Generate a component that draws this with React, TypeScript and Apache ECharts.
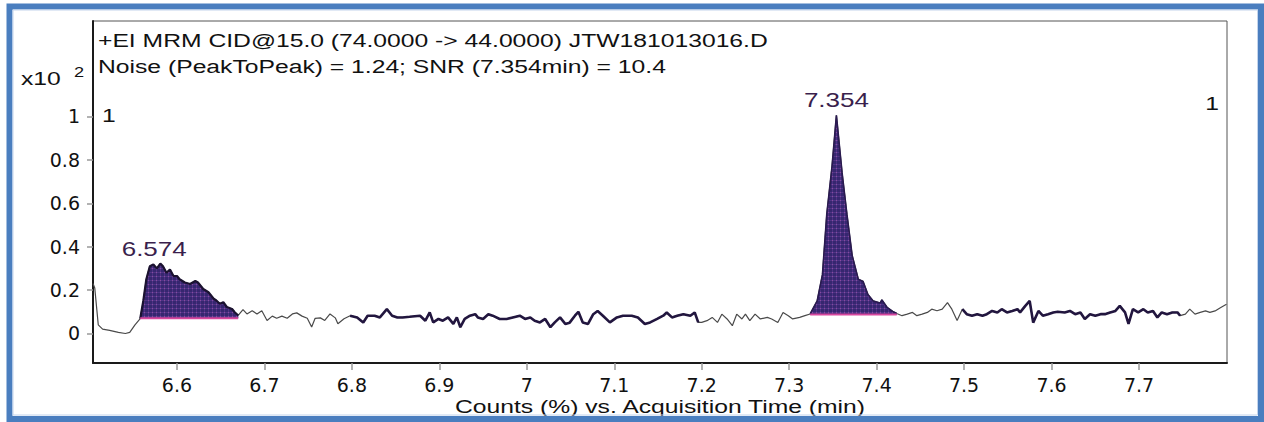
import { useEffect, useRef } from 'react';
import * as echarts from 'echarts';

// ---- Data (time in min, counts in x10^2) ----
const leadIn: number[][] = [
  [6.504, 0.23], [6.506, 0.21], [6.51, 0.04], [6.515, 0.02], [6.523, 0.014], [6.533, 0.005],
  [6.541, 0.0], [6.546, 0.005], [6.552, 0.04],
];

const peak1Trace: number[][] = [
  [6.558, 0.068], [6.5615, 0.15], [6.565, 0.25], [6.569, 0.31], [6.573, 0.318], [6.577, 0.3],
  [6.581, 0.322], [6.584, 0.31], [6.588, 0.28], [6.592, 0.295], [6.596, 0.265], [6.6, 0.265],
  [6.603, 0.25], [6.609, 0.235], [6.615, 0.228], [6.621, 0.242], [6.624, 0.235], [6.63, 0.205],
  [6.636, 0.19], [6.642, 0.16], [6.645, 0.152], [6.649, 0.137], [6.653, 0.144], [6.657, 0.122],
  [6.663, 0.113], [6.666, 0.098], [6.67, 0.083],
];

const noiseA: number[][] = [
  [6.6755, 0.11], [6.68, 0.09], [6.686, 0.105], [6.6915, 0.09], [6.697, 0.105], [6.703, 0.06],
  [6.709, 0.08], [6.714, 0.07], [6.72, 0.08], [6.726, 0.07], [6.732, 0.09], [6.737, 0.095],
  [6.743, 0.08], [6.749, 0.07], [6.754, 0.03], [6.758, 0.07], [6.764, 0.072], [6.769, 0.06],
  [6.775, 0.09], [6.781, 0.072], [6.784, 0.045], [6.791, 0.068], [6.798, 0.082],
];

const noiseB: number[][] = [
  [6.806, 0.074], [6.813, 0.051], [6.818, 0.082], [6.826, 0.082], [6.832, 0.074], [6.84, 0.112],
  [6.846, 0.082], [6.852, 0.074], [6.858, 0.074], [6.866, 0.077], [6.878, 0.082], [6.884, 0.059],
  [6.889, 0.097], [6.893, 0.051], [6.899, 0.067], [6.904, 0.059], [6.91, 0.074], [6.916, 0.044],
  [6.92, 0.074], [6.924, 0.029], [6.929, 0.067], [6.935, 0.082], [6.941, 0.089], [6.944, 0.074],
  [6.95, 0.067], [6.956, 0.089], [6.961, 0.082], [6.969, 0.067], [6.977, 0.067], [6.984, 0.074],
  [6.992, 0.082], [6.998, 0.067], [7.004, 0.074], [7.009, 0.059], [7.015, 0.051], [7.021, 0.067],
  [7.027, 0.029], [7.032, 0.051], [7.038, 0.074], [7.044, 0.044], [7.049, 0.05], [7.055, 0.082],
  [7.059, 0.1], [7.064, 0.051], [7.07, 0.044], [7.076, 0.089], [7.081, 0.104], [7.087, 0.082],
  [7.095, 0.051], [7.103, 0.074], [7.11, 0.082], [7.12, 0.082], [7.127, 0.074], [7.135, 0.044],
  [7.141, 0.051], [7.149, 0.067], [7.156, 0.082], [7.16, 0.097], [7.166, 0.074], [7.172, 0.082],
  [7.179, 0.089], [7.187, 0.082], [7.192, 0.097], [7.196, 0.051],
];

const noiseC: number[][] = [
  [7.2, 0.051], [7.206, 0.059], [7.212, 0.074], [7.218, 0.051], [7.223, 0.089], [7.229, 0.067],
  [7.235, 0.036], [7.24, 0.089], [7.246, 0.067], [7.25, 0.089], [7.255, 0.059], [7.261, 0.089],
  [7.267, 0.067], [7.275, 0.074], [7.28, 0.067], [7.287, 0.051], [7.293, 0.097], [7.299, 0.082],
  [7.304, 0.067], [7.312, 0.074], [7.318, 0.082],
];

const peak2Trace: number[][] = [
  [7.324, 0.09], [7.332, 0.15], [7.338, 0.27], [7.343, 0.55], [7.349, 0.77], [7.354, 1.005],
  [7.3605, 0.74], [7.366, 0.55], [7.372, 0.36], [7.379, 0.25], [7.3845, 0.24], [7.39, 0.18],
  [7.396, 0.15], [7.404, 0.14], [7.406, 0.155], [7.412, 0.12], [7.419, 0.1], [7.423, 0.092],
];

const noiseD: number[][] = [
  [7.429, 0.082], [7.435, 0.089], [7.441, 0.097], [7.446, 0.082], [7.452, 0.089], [7.458, 0.097],
  [7.463, 0.112], [7.469, 0.105], [7.475, 0.112], [7.481, 0.142], [7.486, 0.112], [7.492, 0.06],
  [7.498, 0.112], [7.503, 0.089], [7.509, 0.082], [7.515, 0.089], [7.521, 0.082], [7.526, 0.089],
  [7.532, 0.104], [7.538, 0.097], [7.543, 0.112], [7.549, 0.097], [7.555, 0.104], [7.561, 0.112],
  [7.564, 0.097], [7.57, 0.127], [7.575, 0.15], [7.579, 0.05], [7.585, 0.104], [7.59, 0.082],
  [7.596, 0.089], [7.602, 0.097],
];

const noiseE: number[][] = [
  [7.607, 0.1], [7.615, 0.097], [7.621, 0.104], [7.627, 0.089], [7.633, 0.097], [7.638, 0.067],
  [7.644, 0.089], [7.65, 0.082], [7.656, 0.089], [7.661, 0.089], [7.667, 0.097], [7.673, 0.104],
  [7.678, 0.127], [7.684, 0.097], [7.688, 0.044], [7.693, 0.112], [7.699, 0.097], [7.705, 0.112],
  [7.71, 0.097], [7.716, 0.104], [7.721, 0.074], [7.726, 0.097], [7.732, 0.089], [7.738, 0.097],
  [7.744, 0.097], [7.747, 0.082], [7.753, 0.089], [7.758, 0.112], [7.764, 0.089], [7.77, 0.097],
  [7.776, 0.104], [7.781, 0.097], [7.787, 0.104], [7.793, 0.119], [7.8, 0.135],
];

// integrated peaks
const peakStart = [6.558, 7.324];
const peakEnd = [6.67, 7.423];
const peakBaseline = [0.07, 0.087];
const peakApex = [6.574, 7.354];
const peakLabels = ['6.574', '7.354'];

// noise evaluation windows (drawn bold)
const noiseWindows = [
  [6.798, 7.196],
  [7.498, 7.75],
];

// axes
const xMin = 6.504;
const xMax = 7.8006;
const yMin = -0.136;
const yMax = 1.44;
const xTickValues = [6.6, 6.7, 6.8, 6.9, 7.0, 7.1, 7.2, 7.3, 7.4, 7.5, 7.6, 7.7];
const xTickLabels = ['6.6', '6.7', '6.8', '6.9', '7', '7.1', '7.2', '7.3', '7.4', '7.5', '7.6', '7.7'];
const yTickValues = [0, 0.2, 0.4, 0.6, 0.8, 1];
const yTickLabels = ['0', '0.2', '0.4', '0.6', '0.8', '1'];

const titleLine1 = '+EI MRM CID@15.0 (74.0000 -> 44.0000) JTW181013016.D';
const titleLine2 = 'Noise (PeakToPeak) = 1.24; SNR (7.354min) = 10.4';
const xAxisTitle = 'Counts (%) vs. Acquisition Time (min)';

const trace = [...leadIn, ...peak1Trace, ...noiseA, ...noiseB, ...noiseC, ...peak2Trace, ...noiseD, ...noiseE];

const FONT = '"Liberation Sans", Arial, sans-serif';
const AXFONT = '"DejaVu Sans", sans-serif';

function labelFor(values: number[], labels: string[], v: number) {
  const i = values.findIndex((t) => Math.abs(t - v) < 1e-6);
  return i >= 0 ? labels[i] : '';
}

export default function App() {
  const ref = useRef<HTMLDivElement>(null);

  useEffect(() => {
    if (!ref.current) return;
    const chart = echarts.init(ref.current, null, { renderer: 'svg' });

    const cv = document.createElement('canvas');
    cv.width = 4;
    cv.height = 4;
    const ctx = cv.getContext('2d');
    if (ctx) {
      ctx.fillStyle = '#37266f';
      ctx.fillRect(0, 0, 4, 4);
      ctx.fillStyle = '#4e3486';
      ctx.fillRect(0, 0, 4, 1);
      ctx.fillRect(0, 0, 1, 4);
      ctx.fillStyle = '#8a4a9e';
      ctx.fillRect(0, 0, 1, 1);
    }
    const pattern: any = { image: cv, repeat: 'repeat' };

    const series: any[] = [
      {
        type: 'line',
        data: trace,
        symbol: 'none',
        silent: true,
        z: 2,
        lineStyle: { color: '#4a4a4a', width: 1.2 },
      },
    ];

    noiseWindows.forEach(([a, b]) => {
      series.push({
        type: 'line',
        data: trace.filter((p) => p[0] >= a - 1e-9 && p[0] <= b + 1e-9),
        symbol: 'none',
        silent: true,
        z: 3,
        lineStyle: { color: '#22163f', width: 2.6 },
      });
    });

    peakStart.forEach((s, i) => {
      const seg = trace.filter((p) => p[0] >= s - 1e-9 && p[0] <= peakEnd[i] + 1e-9);
      series.push({
        type: 'line',
        data: seg,
        symbol: 'none',
        silent: true,
        z: 3,
        lineStyle: { width: 0 },
        areaStyle: { color: '#3d2a76', origin: peakBaseline[i], opacity: 1 },
      });
      series.push({
        type: 'line',
        data: seg,
        symbol: 'none',
        silent: true,
        z: 4,
        lineStyle: { color: i === 0 ? '#1b1230' : '#2a1a50', width: i === 0 ? 2.2 : 1.6 },
        areaStyle: { color: pattern, origin: peakBaseline[i], opacity: 1 },
      });
      series.push({
        type: 'line',
        data: [
          [s, peakBaseline[i]],
          [peakEnd[i], peakBaseline[i]],
        ],
        symbol: 'none',
        silent: true,
        z: 5,
        lineStyle: { color: '#d8489f', width: 2 },
      });
    });

    chart.setOption({
      animation: false,
      backgroundColor: '#ffffff',
      grid: {
        left: 93,
        top: 21,
        width: 1134,
        height: 342,
        show: true,
        borderColor: '#555',
        borderWidth: 1,
        containLabel: false,
        outerBoundsMode: 'none',
      },
      xAxis: {
        type: 'value',
        min: xMin,
        max: xMax,
        splitLine: { show: false },
        axisLine: { show: true, onZero: false, lineStyle: { color: '#1a1a1a', width: 2 } },
        axisTick: { show: true, customValues: xTickValues, length: 7, lineStyle: { color: '#999', width: 1.5 } },
        axisLabel: {
          customValues: xTickValues,
          formatter: (v: number) => labelFor(xTickValues, xTickLabels, v),
          fontFamily: AXFONT,
          fontSize: 19,
          color: '#111',
          margin: 12,
        },
      },
      yAxis: {
        type: 'value',
        min: yMin,
        max: yMax,
        splitLine: { show: false },
        axisLine: { show: true, onZero: false, lineStyle: { color: '#1a1a1a', width: 2 } },
        axisTick: { show: true, customValues: yTickValues, length: 6, lineStyle: { color: '#999', width: 1.5 } },
        axisLabel: {
          customValues: yTickValues,
          formatter: (v: number) => labelFor(yTickValues, yTickLabels, v),
          fontFamily: AXFONT,
          fontSize: 19,
          color: '#111',
          margin: 13,
        },
      },
      series,
    });

    const txt = (x: number, y: number, text: string, opts: any = {}) => ({
      type: 'text',
      x,
      y,
      scaleX: opts.scaleX ?? 1.3,
      silent: true,
      z: 10,
      style: {
        text,
        fill: opts.fill ?? '#111',
        fontSize: opts.fontSize ?? 19,
        fontFamily: FONT,
        align: opts.align ?? 'left',
        verticalAlign: 'middle',
      },
    });

    const graphic: any[] = [
      {
        type: 'rect',
        silent: true,
        z: 20,
        shape: { x: 9.5, y: 6.5, width: 1251.5, height: 412.5 },
        style: { fill: 'none', stroke: '#4a7ebf', lineWidth: 6 },
      },
      {
        type: 'rect',
        silent: true,
        z: 20,
        shape: { x: 13, y: 10, width: 1244.5, height: 405 },
        style: { fill: 'none', stroke: '#c3d4ec', lineWidth: 1 },
      },
      txt(98, 41, titleLine1),
      txt(98, 67, titleLine2),
      txt(21, 79, 'x10'),
      txt(74, 72, '2', { fontSize: 14 }),
      txt(102, 116, '1'),
      txt(1212, 104, '1', { align: 'center' }),
      txt(660, 407, xAxisTitle, { align: 'center' }),
    ];

    peakApex.forEach((t, i) => {
      const seg = trace.filter((p) => p[0] >= peakStart[i] - 1e-9 && p[0] <= peakEnd[i] + 1e-9);
      const top = Math.max(...seg.map((p) => p[1]));
      const pt = chart.convertToPixel({ gridIndex: 0 } as any, [t, top]) as number[];
      if (pt) graphic.push(txt(pt[0], pt[1] - 15, peakLabels[i], { align: 'center', fill: '#3a1f4d', fontSize: 20 }));
    });

    chart.setOption({ graphic });

    return () => chart.dispose();
  }, []);

  return (
    <div
      ref={ref}
      style={{ position: 'absolute', left: 0, top: 0, width: 1264, height: 422, background: '#fff' }}
    />
  );
}
